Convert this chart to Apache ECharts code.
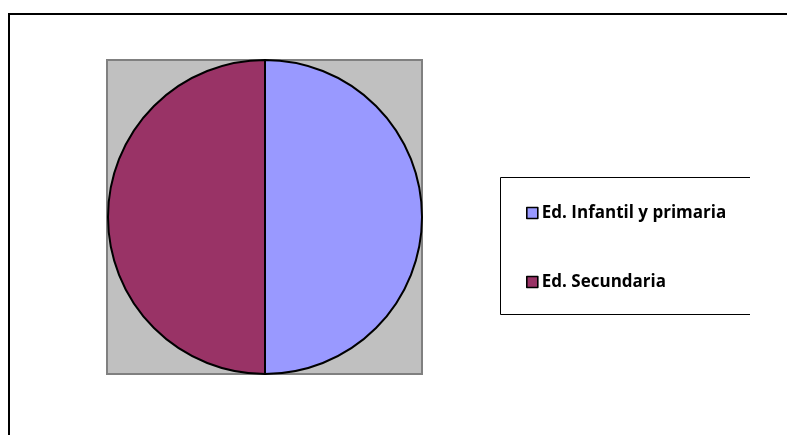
<!DOCTYPE html>
<html>
<head>
<meta charset="utf-8">
<script src="https://cdn.jsdelivr.net/npm/echarts@6/dist/echarts.min.js"></script>
<style>
html,body{margin:0;padding:0;background:#fff;}
#chart{width:787px;height:435px;}
</style>
</head>
<body>
<div id="chart"></div>
<script>
// Share of schools by education level
const categories = ['Ed. Infantil y primaria', 'Ed. Secundaria'];
const values = [50, 50];
const colors = ['#9999FF', '#993366'];

const chart = echarts.init(document.getElementById('chart'), null, {renderer: 'canvas'});

chart.setOption({
  backgroundColor: '#ffffff',
  animation: false,
  color: colors,
  graphic: [
    // chart frame
    {type: 'polyline', shape: {points: [[9, 440], [9, 14], [792, 14]]},
     style: {stroke: '#000', lineWidth: 2, fill: null}, z: 0},
    // plot area
    {type: 'rect', shape: {x: 107, y: 60, width: 315, height: 314},
     style: {fill: '#C0C0C0', stroke: '#808080', lineWidth: 2}, z: 0},
    // legend frame
    {type: 'polyline', shape: {points: [[750, 177.5], [500.5, 177.5], [500.5, 314.5], [750, 314.5]]},
     style: {stroke: '#000', lineWidth: 1, fill: null}, z: 0}
  ],
  legend: {
    orient: 'vertical',
    left: 521,
    top: 199,
    padding: 5,
    icon: 'rect',
    itemWidth: 11,
    itemHeight: 11,
    itemGap: 51,
    itemStyle: {borderColor: '#000', borderWidth: 1.6},
    textStyle: {fontFamily: 'Open Sans', fontWeight: 'bold', fontSize: 17, color: '#000', lineHeight: 18, padding: [0, 0, 0, -1]},
    data: categories
  },
  series: [{
    type: 'pie',
    center: [265, 217],
    radius: 157,
    startAngle: 90,
    clockwise: true,
    label: {show: false},
    labelLine: {show: false},
    emphasis: {disabled: true},
    itemStyle: {borderColor: '#000', borderWidth: 2},
    data: categories.map((name, i) => ({name: name, value: values[i]}))
  }]
});
</script>
</body>
</html>
